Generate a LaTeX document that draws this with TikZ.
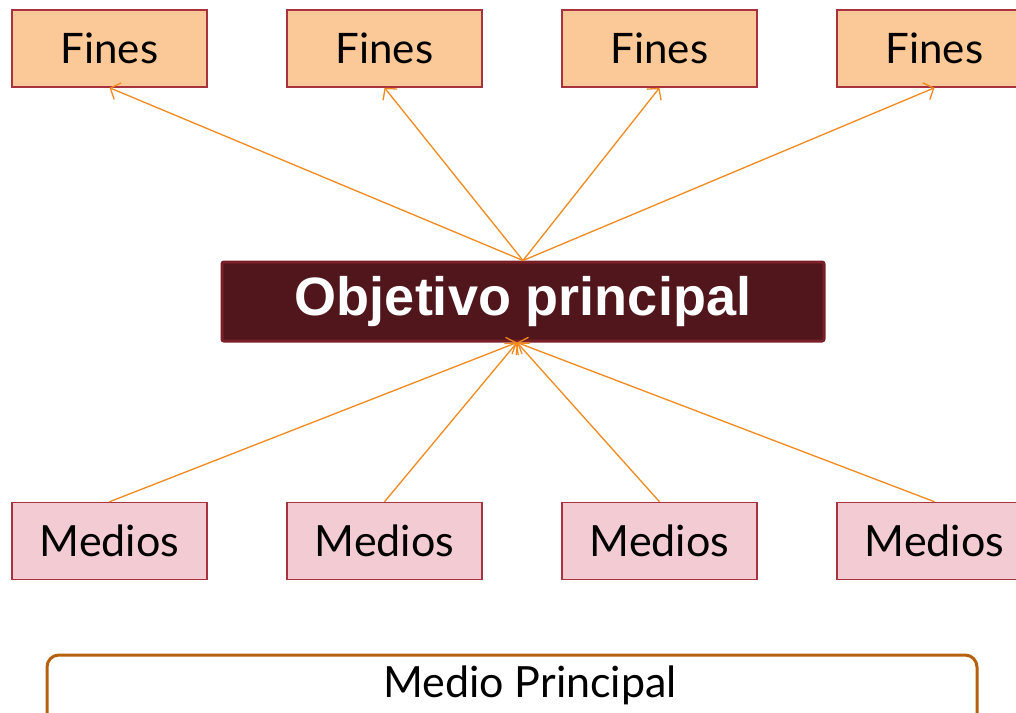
\documentclass[tikz,border=0pt]{standalone}
\usepackage{fontspec}
\setmainfont{Lato}
\newfontfamily\boldsans{Liberation Sans}
\usepackage{tikz}
\usetikzlibrary{arrows.meta}
\usetikzlibrary{positioning}
\definecolor{finfill}{HTML}{FAC997}
\definecolor{medfill}{HTML}{F2CCD2}
\definecolor{boxline}{HTML}{A8323E}
\definecolor{objfill}{HTML}{51161C}
\definecolor{objline}{HTML}{7A1F28}
\definecolor{flecha}{HTML}{F0891E}
\definecolor{mpline}{HTML}{B5600F}
\tikzset{fin/.style = {draw = boxline, fill = finfill, line width = 1.5,
                       minimum width = 195, minimum height = 77,
                       font = \fontsize{42}{46}\selectfont}}
\tikzset{med/.style = {fin, fill = medfill, font = \fontsize{43}{47}\selectfont}}
\tikzset{obj/.style = {draw = objline, fill = objfill, line width = 3,
                       rounded corners = 2, minimum width = 602, minimum height = 79,
                       text = white, font = \boldsans\bfseries\fontsize{54}{60}\selectfont}}
\tikzset{mp/.style = {draw = mpline, line width = 3, rounded corners = 12,
                      minimum width = 930, minimum height = 80,
                      text height = 30, text depth = 26,
                      font = \fontsize{43}{47}\selectfont}}
\tikzset{flecha/.style = {draw = flecha, line width = 1.3,
                          -{Straight Barb[length = 8, width = 18]}}}

\begin{document}
\begin{tikzpicture}[x = 1pt, y = -1pt]
    \useasboundingbox (0, 0) rectangle (1016, 712);
    \clip (0, 0) rectangle (1016, 712);
    \node [fin] (f1) at (109.5, 48.5) {Fines};
    \node [fin] (f2) at (384.5, 48.5) {Fines};
    \node [fin] (f3) at (659.5, 48.5) {Fines};
    \node [fin] (f4) at (934.5, 48.5) {Fines};
    \node [obj] (obj) at (523, 301.5) {Objetivo principal};
    \node [med] (m1) at (109.5, 541) {Medios};
    \node [med] (m2) at (384.5, 541) {Medios};
    \node [med] (m3) at (659.5, 541) {Medios};
    \node [med] (m4) at (934.5, 541) {Medios};
    \node [mp] (mp) at (512, 695) {\hspace*{36pt}Medio Principal};
    \draw [flecha] (obj.north) -- (f1.south);
    \draw [flecha] (obj.north) -- (f2.south);
    \draw [flecha] (obj.north) -- (f3.south);
    \draw [flecha] (obj.north) -- (f4.south);
    \draw [flecha] (m1.north) -- ([xshift = -6]obj.south);
    \draw [flecha] (m2.north) -- ([xshift = -6]obj.south);
    \draw [flecha] (m3.north) -- ([xshift = -6]obj.south);
    \draw [flecha] (m4.north) -- ([xshift = -6]obj.south);
\end{tikzpicture}
\end{document}
